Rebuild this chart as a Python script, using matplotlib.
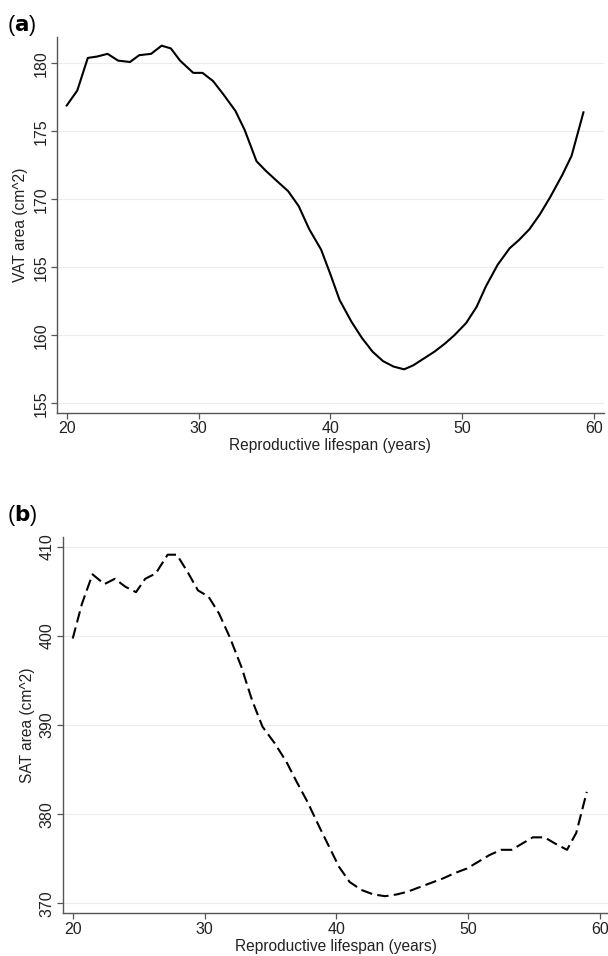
import matplotlib
matplotlib.use("Agg")
import matplotlib.pyplot as plt

plt.rcParams["font.family"] = ["Liberation Sans", "DejaVu Sans"]

# (a) VAT area vs reproductive lifespan
vat_x = [20.0, 20.8, 21.6, 22.3, 23.1, 23.9, 24.8, 25.5, 26.4, 27.2, 27.9, 28.6,
         29.6, 30.3, 31.1, 31.9, 32.8, 33.5, 34.4, 35.1, 36.0, 36.8, 37.6, 38.4,
         39.3, 40.0, 40.7, 41.6, 42.4, 43.2, 44.0, 44.8, 45.6, 46.3, 47.1, 47.9,
         48.7, 49.4, 50.3, 51.1, 51.8, 52.7, 53.6, 54.3, 55.1, 55.9, 56.7, 57.6,
         58.3, 59.2]
vat_y = [176.9, 178.0, 180.4, 180.5, 180.7, 180.2, 180.1, 180.6, 180.7, 181.3, 181.1, 180.2,
         179.3, 179.3, 178.7, 177.7, 176.5, 175.1, 172.8, 172.1, 171.3, 170.6, 169.5, 167.8,
         166.3, 164.5, 162.6, 161.0, 159.8, 158.8, 158.1, 157.7, 157.5, 157.8, 158.3, 158.8,
         159.4, 160.0, 160.9, 162.1, 163.6, 165.2, 166.4, 167.0, 167.8, 168.9, 170.2, 171.8,
         173.2, 176.4]

# (b) SAT area vs reproductive lifespan
sat_x = [20.0, 20.7, 21.5, 22.4, 23.2, 24.0, 24.8, 25.5, 26.3, 27.2, 27.9, 28.7,
         29.5, 30.3, 31.1, 31.9, 32.8, 33.6, 34.4, 35.3, 36.2, 37.0, 37.8, 38.7,
         39.5, 40.2, 41.0, 41.9, 42.8, 43.7, 44.6, 45.4, 46.3, 47.2, 48.1, 49.0,
         49.9, 50.7, 51.6, 52.5, 53.3, 54.1, 54.9, 55.8, 56.6, 57.5, 58.2, 59.0]
sat_y = [399.7, 403.6, 406.9, 405.8, 406.4, 405.5, 404.9, 406.4, 407.0, 409.1, 409.1, 407.2,
         405.1, 404.4, 402.5, 399.9, 396.5, 392.8, 389.8, 388.0, 385.9, 383.6, 381.4, 378.6,
         376.2, 374.1, 372.4, 371.5, 371.0, 370.8, 371.0, 371.3, 371.8, 372.3, 372.8, 373.4,
         373.9, 374.6, 375.4, 376.0, 376.0, 376.7, 377.4, 377.4, 376.7, 376.0, 377.9, 382.5]

x_ticks = [20, 30, 40, 50, 60]
vat_ticks = [155, 160, 165, 170, 175, 180]
sat_ticks = [370, 380, 390, 400, 410]

W, H = 608, 956
fig = plt.figure(figsize=(W / 100, H / 100), dpi=100)


def px_axes(left, top, right, bottom):
    return fig.add_axes([left / W, 1 - bottom / H, (right - left) / W, (bottom - top) / H])


def style(ax, yticks, ylabel, ylab_x):
    for s in ["top", "right"]:
        ax.spines[s].set_visible(False)
    for s in ["left", "bottom"]:
        ax.spines[s].set_color("#555555")
        ax.spines[s].set_linewidth(1.0)
    ax.set_xticks(x_ticks)
    ax.set_yticks(yticks)
    ax.tick_params(axis="both", direction="out", length=4.5, width=0.9,
                   color="#555555", labelsize=11.5, labelcolor="#222222", pad=1.5)
    for lab in ax.get_yticklabels():
        lab.set_rotation(90)
        lab.set_va("center")
    ax.grid(axis="y", color="#ececec", linewidth=0.8)
    ax.set_axisbelow(True)
    ax.set_xlabel("Reproductive lifespan (years)", fontsize=11.2, color="#222222", labelpad=1.5)
    ax.set_ylabel(ylabel, fontsize=11.2, color="#222222")
    ax.yaxis.set_label_coords(ylab_x, 0.5)


ax1 = px_axes(56.7, 36.7, 604, 412.7)
ax1.plot(vat_x, vat_y, color="black", linewidth=1.5)
ax1.set_xlim(19.24, 60.76)
ax1.set_ylim(154.31, 181.96)
style(ax1, vat_ticks, "VAT area (cm^2)", -0.052)

ax2 = px_axes(62.7, 536.7, 610, 913.3)
ax2.plot(sat_x, sat_y, color="black", linewidth=1.5, linestyle=(0, (5.5, 2.5)))
ax2.set_xlim(19.24, 60.76)
ax2.set_ylim(368.88, 411.12)
style(ax2, sat_ticks, "SAT area (cm^2)", -0.051)

fig.text(7 / W, 1 - 25 / H, r"($\bf{a}$)", fontsize=15.5, va="center", ha="left")
fig.text(7 / W, 1 - 515 / H, r"($\bf{b}$)", fontsize=15.5, va="center", ha="left")

fig.savefig("out.png", dpi=100)
